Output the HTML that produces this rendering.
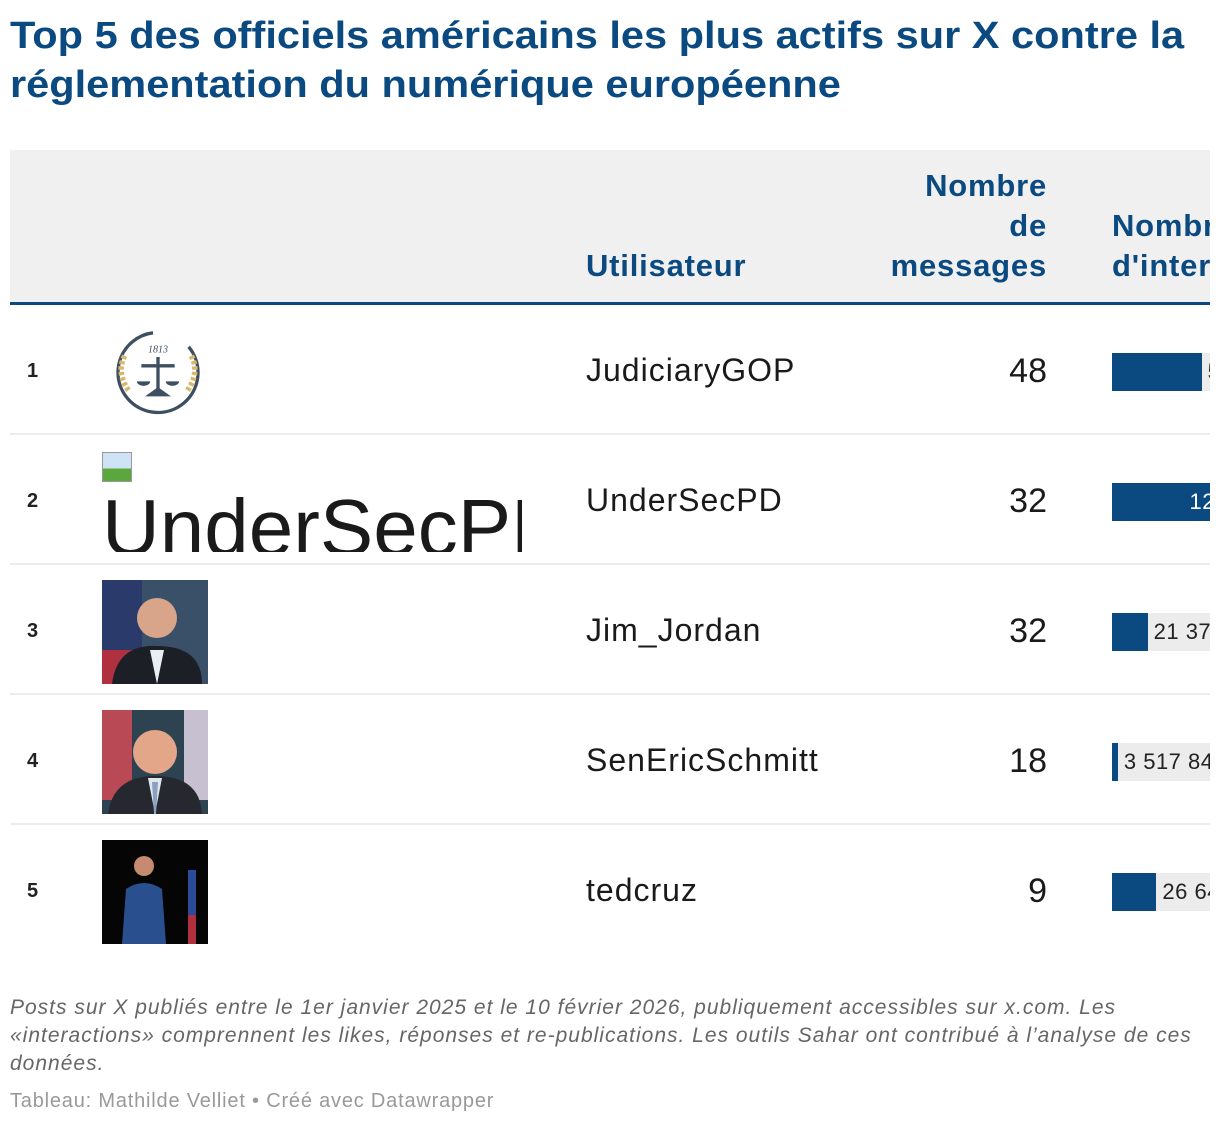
<!DOCTYPE html>
<html><head><meta charset="utf-8">
<style>
body{margin:0;width:1220px;height:1126px;background:#fff;overflow:hidden;font-family:"Liberation Sans",sans-serif;position:relative}
.a{position:absolute}
h1{position:absolute;left:10px;top:12px;margin:0;font-size:38px;line-height:49px;color:#0a4a80;font-weight:bold;width:1090px;transform:scaleX(1.093);transform-origin:left top}
#clip{position:absolute;left:10px;top:150px;width:1200px;height:800px;overflow:hidden}
.hd{color:#0a4a80;font-weight:bold;font-size:31px;line-height:40px;letter-spacing:0.8px}
.rank{font-weight:bold;font-size:20px;color:#222}
.user{font-size:32px;color:#1a1a1a;letter-spacing:1px}
.msg{font-size:34px;color:#1a1a1a;text-align:right;width:200px}
.sep{height:2px;background:#ececec;width:1200px;left:0}
.note{left:10px;top:994px;font-size:21px;line-height:28px;color:#666;font-style:italic;width:1190px;letter-spacing:1px}
.credit{left:10px;top:1090px;font-size:20px;color:#999;letter-spacing:0.8px}
.barbg{background:#ececec;height:38px}
.bar{background:#0a4a80;height:38px}
.bl{font-size:22px;color:#222;line-height:38px;letter-spacing:0.5px}
</style></head><body>
<h1>Top 5 des officiels américains les plus actifs sur X contre la réglementation du numérique européenne</h1>
<div id="clip">
 <div class="a" style="left:0;top:0;width:1200px;height:152px;background:#f0f0f0"></div>
 <div class="a" style="left:0;top:152px;width:1200px;height:3px;background:#0a4a80"></div>
 <div class="a hd" style="left:576px;top:96px">Utilisateur</div>
 <div class="a hd" style="left:837px;top:16px;width:200px;text-align:right">Nombre<br>de<br>messages</div>
 <div class="a hd" style="left:1102px;top:56px;white-space:nowrap">Nombre<br>d'interactions</div>
 <div id="rows"></div>
</div>
<div class="a note">Posts sur X publiés entre le 1er janvier 2025 et le 10 février 2026, publiquement accessibles sur x.com. Les «interactions» comprennent les likes, réponses et re-publications. Les outils Sahar ont contribué à l’analyse de ces données.</div>
<div class="a credit">Tableau: Mathilde Velliet • Créé avec Datawrapper</div>
<script>
const users=["JudiciaryGOP","UnderSecPD","Jim_Jordan","SenEricSchmitt","tedcruz"];
const messages=[48,32,32,18,9];
const interactions=[53800000,124500000,21370000,3517840,26640000];
const pxPerUnit=1/600000;
function xScale(v){return v*pxPerUnit;}
function fmt(n){return String(n).replace(/\B(?=(\d{3})+(?!\d))/g,' ');}
const photos=[
'<svg width="100" height="89" viewBox="0 0 90 80"><circle cx="45" cy="40" r="36" fill="none" stroke="#3d4f60" stroke-width="3" stroke-dasharray="190 36" transform="rotate(-40 45 40)"/><text x="45" y="22" font-size="9" font-style="italic" text-anchor="middle" fill="#3d4f60" font-family="Liberation Serif">1813</text><path d="M45 26v30M30 34h30M38 60h14l-7-5z" stroke="#3d4f60" stroke-width="3" fill="#3d4f60"/><path d="M26 48a6 4 0 0 0 12 0zM52 48a6 4 0 0 0 12 0z" fill="#3d4f60"/><path d="M15 25q-8 15 4 32M75 25q8 15-4 32" stroke="#d9b66a" stroke-width="5" fill="none" stroke-dasharray="3 2"/></svg>',
'',
'<svg width="106" height="104"><rect width="106" height="104" fill="#3a5068"/><rect width="40" height="104" fill="#2a3a6a"/><rect y="70" width="40" height="34" fill="#b03040"/><circle cx="55" cy="38" r="20" fill="#d9a58a"/><path d="M10 104q5-40 45-38q45 0 45 38z" fill="#1c1f26"/><path d="M48 70l7 34l7-34z" fill="#e8eef4"/></svg>',
'<svg width="106" height="104"><rect width="106" height="104" fill="#2e4352"/><rect width="30" height="90" fill="#b94a55"/><rect x="82" width="24" height="90" fill="#c7c0d0"/><circle cx="53" cy="42" r="22" fill="#e3a688"/><path d="M6 104q5-38 47-38q45 0 47 38z" fill="#25292f"/><path d="M46 68l7 36l7-36z" fill="#dfe6ee"/><path d="M50 72h6l-2 32h-2z" fill="#8aa0bd"/></svg>',
'<svg width="106" height="104"><rect width="106" height="104" fill="#050505"/><circle cx="42" cy="26" r="10" fill="#c58a70"/><path d="M20 104l4-55q18-12 36 0l4 55z" fill="#2a4f8f"/><rect x="86" y="30" width="8" height="74" fill="#2a4a9a"/><rect x="86" y="75" width="8" height="29" fill="#b03040"/></svg>'];
const rows=document.getElementById('rows');
users.forEach((u,i)=>{
 const top=155+i*130, cy=top+67;
 const r=document.createElement('div');
 
 
 let h='';
 h+=`<div class="a rank" style="left:17px;top:${cy-12}px">${i+1}</div>`;
 if(i===1){
  h+=`<div class="a" style="left:92px;top:${top+17}px;width:30px;height:30px;background:linear-gradient(#cfe3f6 55%,#5aa83c 55%);border:1px solid #999;box-sizing:border-box"></div>`;
  h+=`<div class="a" style="left:92px;top:${top+53}px;width:420px;height:64px;overflow:hidden"><div style="font-size:80px;line-height:80px;color:#1a1a1a;white-space:nowrap">UnderSecPD</div></div>`;
 }else if(i===0){
  h+=`<div class="a" style="left:98px;top:${cy-44}px">${photos[0]}</div>`;
 }else{
  h+=`<div class="a" style="left:92px;top:${cy-52}px;width:106px;height:104px">${photos[i]}</div>`;
 }
 h+=`<div class="a user" style="left:576px;top:${cy-20}px">${u}</div>`;
 h+=`<div class="a msg" style="left:837px;top:${cy-20}px">${messages[i]}</div>`;
 const w=xScale(interactions[i]);
 h+=`<div class="a barbg" style="left:1102px;top:${cy-19}px;width:400px"></div>`;
 h+=`<div class="a bar" style="left:1102px;top:${cy-19}px;width:${w}px"></div>`;
 const inside=w>150;
 h+=`<div class="a bl" style="left:${inside?1102+w-130:1102+w+6}px;top:${cy-19}px;width:${inside?122:300}px;text-align:${inside?'right':'left'};color:${inside?'#fff':'#222'};white-space:nowrap">${fmt(interactions[i])}</div>`;
 if(i<4) h+=`<div class="a sep" style="top:${top+128}px"></div>`;
 r.innerHTML=h;
 rows.appendChild(r);
});
</script>
</body></html>
